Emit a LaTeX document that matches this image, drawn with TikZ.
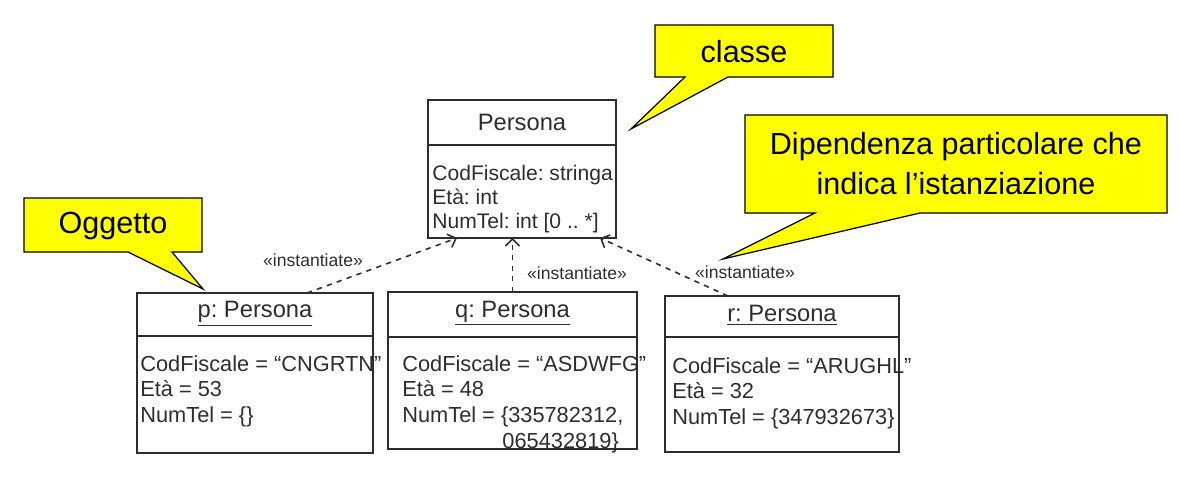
\documentclass[tikz,border=0pt]{standalone}
\usepackage{fontspec}
\setmainfont{Liberation Sans}
\usepackage{xcolor}
\definecolor{umlgray}{RGB}{45,45,45}
\definecolor{noteyellow}{RGB}{255,255,0}
\usetikzlibrary{arrows.meta}
\frenchspacing

\tikzset{
  umlbox/.style={draw=umlgray, line width=1.5pt, inner sep=0pt, outer sep=0pt},
  umlline/.style={draw=umlgray, line width=1.5pt},
  umltitle/.style={text=umlgray, font=\fontsize{13.5}{16}\selectfont},
  umlattr/.style={text=umlgray, align=left, anchor=north west, inner sep=0pt, font=\fontsize{12.4}{14.7}\selectfont},
  dep/.style={draw=umlgray, dashed, line width=0.9pt, -{Straight Barb[length=4pt, width=8pt]}},
  stereo/.style={text=umlgray, font=\fontsize{10}{12}\selectfont},
  note/.style={draw=black, fill=noteyellow, line width=0.7pt, line join=miter},
  notetext/.style={align=center, font=\fontsize{17.4}{22.7}\selectfont}
}

\begin{document}
\begin{tikzpicture}[x=0.02cm, y=-0.02cm]
  \useasboundingbox (0,0) rectangle (1181,477);

  % notes
  \draw[note] (655,25) -- (833,25) -- (833,77) -- (728,77) -- (631,129) -- (685,77) -- (655,77) -- cycle;
  \node[notetext] (classe) at (744,52) {classe};
  \draw[note] (745,115) -- (1167,115) -- (1167,213) -- (920,213) -- (723,259) -- (815,213) -- (745,213) -- cycle;
  \node[notetext] (dipendenza) at (956,164) {Dipendenza particolare che\\indica l’istanziazione};
  \draw[note] (24,198) -- (202,198) -- (202,252) -- (172,252) -- (203,289) -- (128,252) -- (24,252) -- cycle;
  \node[notetext] (oggetto) at (113,226) {Oggetto};

  % class
  \node[umlbox, minimum width=3.76cm, minimum height=2.76cm] (persona) at (522,169) {};
  \draw[umlline] ([yshift=-0.9cm]persona.north west) -- ([yshift=-0.9cm]persona.north east);
  \node[umltitle] (personatitle) at ([yshift=-0.45cm]persona.north) {Persona};
  \node[umlattr, font=\fontsize{12}{13.6}\selectfont] (personaattr) at (432,165) {CodFiscale: stringa\\Età: int\\NumTel: int [0 .. *]};

  % objects
  \node[umlbox, minimum width=4.72cm, minimum height=3.2cm] (p) at (255,373) {};
  \draw[umlline] ([yshift=-0.86cm]p.north west) -- ([yshift=-0.86cm]p.north east);
  \node[umltitle] (ptitle) at ([yshift=-0.42cm]p.north) {\underline{p: Persona}};
  \node[umlattr] (pattr) at (140,355) {CodFiscale = “CNGRTN”\\Età = 53\\NumTel = \{\}};

  \node[umlbox, minimum width=4.98cm, minimum height=3.14cm] (q) at (512.5,370.5) {};
  \draw[umlline] ([yshift=-0.9cm]q.north west) -- ([yshift=-0.9cm]q.north east);
  \node[umltitle] (qtitle) at ([yshift=-0.43cm]q.north) {\underline{q: Persona}};
  \node[umlattr] (qattr) at (402,355) {CodFiscale = “ASDWFG”\\Età = 48\\NumTel = \{335782312,\\\hspace*{57pt}065432819\}};

  \node[umlbox, minimum width=4.68cm, minimum height=3.12cm] (r) at (782,374) {};
  \draw[umlline] ([yshift=-0.82cm]r.north west) -- ([yshift=-0.82cm]r.north east);
  \node[umltitle] (rtitle) at ([yshift=-0.39cm]r.north) {\underline{r: Persona}};
  \node[umlattr] (rattr) at (672,357) {CodFiscale = “ARUGHL”\\Età = 32\\NumTel = \{347932673\}};

  % instantiation
  \draw[dep] ([xshift=1.04cm]p.north) -- ([xshift=-1.3cm]persona.south);
  \draw[dep] (q.north) -- (q.north |- persona.south);
  \draw[dep] ([xshift=-1.08cm]r.north) -- ([xshift=1.56cm]persona.south);
  \node[stereo] (pstereo) at (313,260) {«instantiate»};
  \node[stereo] (qstereo) at (577,273) {«instantiate»};
  \node[stereo] (rstereo) at (745,272) {«instantiate»};
\end{tikzpicture}
\end{document}
